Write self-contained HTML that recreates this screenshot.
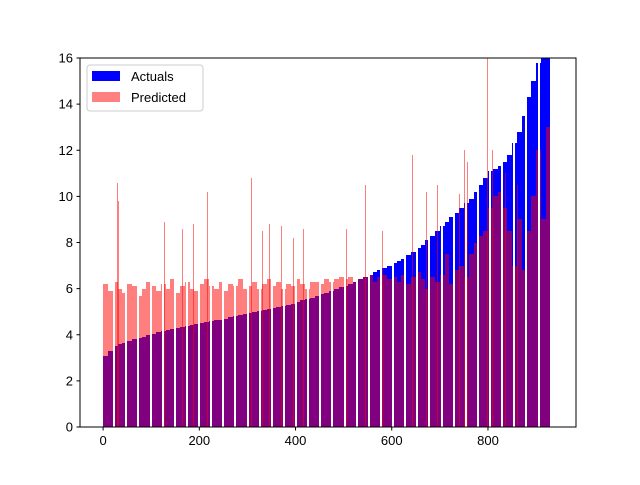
<!DOCTYPE html>
<html><head><meta charset="utf-8"><style>
body{margin:0;background:#fff;}
svg{font-family:"Liberation Sans",sans-serif;}
</style></head><body>
<svg id="chart" width="640" height="480" viewBox="0 0 640 480" xmlns="http://www.w3.org/2000/svg">
<rect width="640" height="480" fill="#fff"/>
<g id="bars" shape-rendering="crispEdges"></g>
<g id="axes"></g>
</svg>
<script>
const groupSize = 10;
const actuals = [3.1,3.3,3.5,3.6,3.65,3.75,3.8,3.85,3.9,4.0,
4.05,4.1,4.15,4.2,4.25,4.3,4.35,4.4,4.42,4.45,
4.5,4.55,4.6,4.62,4.65,4.7,4.75,4.8,4.85,4.9,
4.95,5.0,5.03,5.07,5.1,5.15,5.2,5.25,5.3,5.35,
5.4,5.5,5.55,5.6,5.7,5.75,5.8,5.9,6.0,6.05,
6.1,6.2,6.3,6.4,6.5,6.6,6.7,6.8,6.9,7.0,
7.1,7.2,7.3,7.45,7.6,7.75,7.9,8.1,8.3,8.5,
8.7,8.9,9.1,9.3,9.5,9.7,9.9,10.2,10.5,10.8,
11.1,11.2,11.3,11.5,11.8,12.3,12.8,13.5,14.3,15.0,
15.8,16.5,16.5];
const predicted = [6.2,5.9,6.3,6.0,5.8,6.2,6.1,5.7,6.0,6.3,
6.1,5.9,6.2,6.0,6.4,5.8,6.1,6.3,6.0,5.9,
6.2,6.4,6.1,6.0,6.3,5.9,6.2,6.1,6.4,6.0,
6.1,6.3,6.0,6.2,6.4,6.1,6.3,6.0,6.2,6.1,
6.4,6.2,6.0,6.3,6.3,6.2,6.4,6.3,6.4,6.5,
6.4,6.5,6.3,6.4,6.5,6.6,6.3,6.5,6.6,6.4,
6.5,6.3,6.6,6.2,6.5,6.7,6.4,6.0,6.5,6.3,
6.6,7.5,6.2,6.8,7.0,6.5,7.5,8.0,8.3,8.5,
9.5,10.0,10.2,9.5,8.5,7.0,9.0,6.8,8.5,10.0,
12.0,9.0,13.0];
const spikeX = [28,32,127,163,187,217,307,330,345,370,395,416,505,545,580,643,672,678,695,740,750,757,798,808,835,860,905];
const spikeV = [10.6,9.8,8.9,8.6,8.8,10.2,10.8,8.5,8.8,8.7,8.2,8.6,8.6,10.5,8.5,11.8,10.2,14,10.5,10.1,12.0,11.5,16,12.0,11.0,10.5,12.8];
const yTicks = [0,2,4,6,8,10,12,14,16];
const xTicks = [0,200,400,600,800];

const NS="http://www.w3.org/2000/svg";
const L=80,R=576,T=58,B=427;
const xMin=-48, xMax=983, yMax=16;
function X(v){return L+(v-xMin)/(xMax-xMin)*(R-L);}
function Y(v){return B-Math.min(v,yMax)/yMax*(B-T);}
function mk(tag,attrs,parent){const e=document.createElementNS(NS,tag);for(const k in attrs)e.setAttribute(k,attrs[k]);parent.appendChild(e);return e;}
const bars=document.getElementById('bars'), axes=document.getElementById('axes');
function colRect(u0,u1,v,fill,op,name){
  const x0=Math.round(X(u0)), x1=Math.max(Math.round(X(u1)),x0+1);
  const y=Math.round(Y(v));
  const r=mk('rect',{x:x0,y:y,width:x1-x0,height:B-y,fill:fill,'fill-opacity':op},bars);
  
  
}
actuals.forEach((v,i)=>{ colRect(i*groupSize,(i+1)*groupSize,v,'#0000ff',1,'actual-bar'); });
predicted.forEach((v,i)=>{ colRect(i*groupSize,(i+1)*groupSize,v,'#ff0000',0.5,'predicted-bar'); });
spikeX.forEach((sx,i)=>{
  const v=spikeV[i];
  const x0=Math.round(X(sx)), y=Math.round(Y(v));
  const r=mk('rect',{x:x0,y:y,width:1,height:B-y,fill:'#ff0000','fill-opacity':0.5},bars);
  
  
});
// rendering gaps between bars (aliasing stripes)
for(let u=21;u<actuals.length*groupSize;u+=25.2){
  mk('rect',{x:Math.round(X(u)),y:T,width:2,height:B-T,fill:'#fff'},bars);
}
mk('rect',{x:L,y:T,width:R-L,height:B-T,fill:'none',stroke:'#000','stroke-width':1},axes);
yTicks.forEach(t=>{
  const y=Y(t);
  mk('line',{x1:L-3.5,x2:L,y1:y,y2:y,stroke:'#000'},axes);
  const tx=mk('text',{x:L-7,y:y+4.5,'text-anchor':'end','font-size':13,fill:'#000'},axes);
  tx.textContent=t;
  
  
});
xTicks.forEach(t=>{
  const x=X(t);
  mk('line',{x1:x,x2:x,y1:B,y2:B+3.5,stroke:'#000'},axes);
  const tx=mk('text',{x:x,y:B+18,'text-anchor':'middle','font-size':13,fill:'#000'},axes);
  tx.textContent=t;
  
  
});
const lg=mk('g',{},axes);


mk('rect',{x:87,y:65,width:116,height:46,rx:3,fill:'#fff','fill-opacity':0.8,stroke:'#ccc'},lg);
mk('rect',{x:92,y:71,width:28,height:10,fill:'#0000ff'},lg);
mk('rect',{x:92,y:92,width:28,height:10,fill:'#ff8080'},lg);
const t1=mk('text',{x:131,y:81,'font-size':13},lg);t1.textContent='Actuals';


const t2=mk('text',{x:131,y:102,'font-size':13},lg);t2.textContent='Predicted';


</script>
</body></html>
